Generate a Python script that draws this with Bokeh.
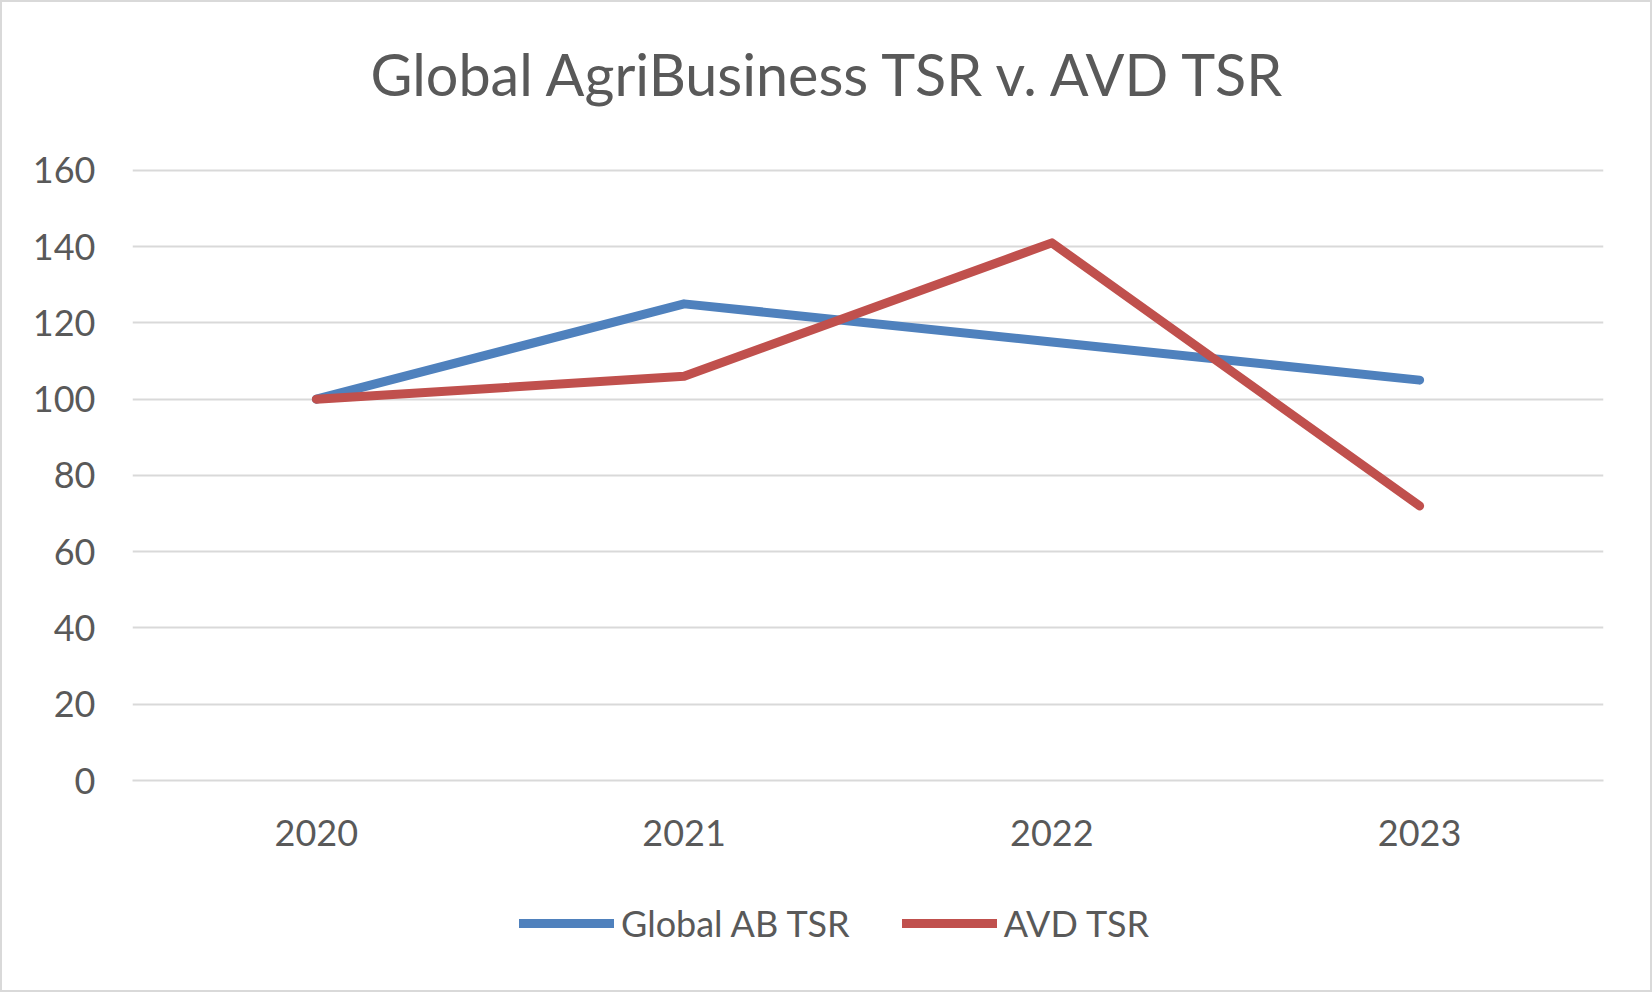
from bokeh.plotting import figure
from bokeh.layouts import column
from bokeh.models import FactorRange, Range1d, Legend, LegendItem, FixedTicker
from bokeh.embed import file_html
from bokeh.resources import INLINE

years = ["2020", "2021", "2022", "2023"]
global_ab_tsr = [100, 125, 115, 105]
avd_tsr = [100, 106, 141, 72]
y_ticks = [0, 20, 40, 60, 80, 100, 120, 140, 160]
title_text = "Global AgriBusiness TSR v. AVD TSR"
series_names = ["Global AB TSR", "AVD TSR"]

BLUE = "#4F81BD"
RED = "#C0504D"
TXT = "#595959"
GRID = "#D9D9D9"
FONT = "Lato"
BORDER = "2px solid #D9D9D9"

W = 1652

# ---- title strip ----
tf = figure(width=W, height=140, output_backend="svg", toolbar_location=None,
            x_axis_location=None, y_axis_location=None,
            min_border_left=0, min_border_right=0, min_border_top=115, min_border_bottom=0,
            styles={"border-top": BORDER, "border-left": BORDER, "border-right": BORDER})
tf.grid.visible = False
tf.outline_line_color = None
tf.title.text = title_text
tf.title.align = "left"
tf.title.offset = 238
tf.title.text_font = FONT
tf.title.text_font_size = "57.5px"
tf.title.text_font_style = "normal"
tf.title.text_color = TXT
tf.title.standoff = 20

# ---- main chart ----
p = figure(width=W, height=720,
           x_range=FactorRange(*years), y_range=Range1d(0, 160.5),
           output_backend="svg", toolbar_location=None,
           min_border_left=130, min_border_right=51,
           min_border_top=28, min_border_bottom=80,
           styles={"border-left": BORDER, "border-right": BORDER})
p.outline_line_color = None
p.xgrid.grid_line_color = None
p.ygrid.grid_line_color = GRID
p.ygrid.grid_line_width = 2
p.yaxis.ticker = FixedTicker(ticks=y_ticks)
for ax in (p.xaxis, p.yaxis):
    ax.major_tick_line_color = None
    ax.minor_tick_line_color = None
    ax.major_label_text_font = FONT
    ax.major_label_text_font_size = "36px"
    ax.major_label_text_color = TXT
p.yaxis.axis_line_color = None
p.xaxis.axis_line_color = GRID
p.xaxis.axis_line_width = 2
p.yaxis.major_label_standoff = 31
p.xaxis.major_label_standoff = 33

p.line(years, global_ab_tsr, line_color=BLUE, line_width=9, line_cap="round", line_join="round")
p.line(years, avd_tsr, line_color=RED, line_width=9, line_cap="round", line_join="round")

# ---- legend strip (series lines fall outside this strip's y-range; only the key shows) ----
lf = figure(width=W, height=132, output_backend="svg", toolbar_location=None,
            x_range=FactorRange(*years), y_range=Range1d(-2, -1),
            x_axis_location=None, y_axis_location=None,
            min_border_left=0, min_border_right=0, min_border_top=0, min_border_bottom=0,
            styles={"border-bottom": BORDER, "border-left": BORDER, "border-right": BORDER})
lf.grid.visible = False
lf.outline_line_color = None
l1 = lf.line(years, global_ab_tsr, line_color=BLUE, line_width=9, line_cap="round")
l2 = lf.line(years, avd_tsr, line_color=RED, line_width=9, line_cap="round")
legend = Legend(items=[LegendItem(label=series_names[0], renderers=[l1]),
                       LegendItem(label=series_names[1], renderers=[l2])],
                orientation="horizontal", location=(387, 47),
                label_text_font=FONT, label_text_font_size="36px", label_text_color=TXT,
                glyph_width=95, glyph_height=30, label_standoff=7, spacing=52,
                border_line_color=None, background_fill_alpha=0,
                padding=0, margin=0)
lf.add_layout(legend, "center")

layout = column(tf, p, lf, spacing=0)
open("out.html", "w").write(file_html(layout, INLINE))
